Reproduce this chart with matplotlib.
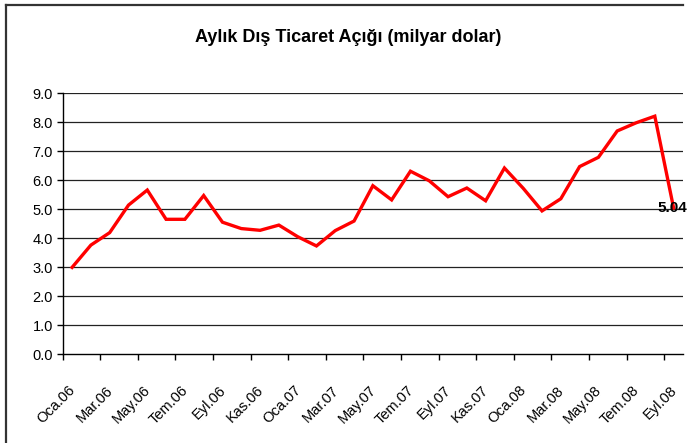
import matplotlib
matplotlib.use("Agg")
import matplotlib.pyplot as plt
from matplotlib import font_manager
from matplotlib.lines import Line2D
from matplotlib.transforms import ScaledTranslation

# ---- data ----
months_tr = ["Oca", "Şub", "Mar", "Nis", "May", "Haz", "Tem", "Ağu", "Eyl", "Eki", "Kas", "Ara"]
years = ["06", "07", "08"]
periods = [f"{m}.{y}" for y in years for m in months_tr][:33]
deficit = [2.99, 3.76, 4.19, 5.14, 5.66, 4.65, 4.65, 5.47, 4.55, 4.33, 4.27,
           4.45, 4.05, 3.73, 4.26, 4.59, 5.81, 5.32, 6.31, 5.98, 5.43, 5.73,
           5.29, 6.42, 5.72, 4.94, 5.36, 6.47, 6.79, 7.70, 7.98, 8.21, 5.04]
yticks = [0, 1, 2, 3, 4, 5, 6, 7, 8, 9]
title = "Aylık Dış Ticaret Açığı (milyar dolar)"

avail = {f.name for f in font_manager.fontManager.ttflist}
fam = [f for f in ["Liberation Sans Narrow", "Liberation Sans", "DejaVu Sans"] if f in avail]
plt.rcParams["font.family"] = fam

W, H = 690, 443
fig = plt.figure(figsize=(W / 100, H / 100), dpi=100)
fig.patch.set_facecolor("white")

L, R, T, B = 62.7, 683, 93.3, 354
ax = fig.add_axes([L / W, 1 - B / H, (R - L) / W, (B - T) / H])

n = len(deficit)
xs = [i + 0.5 for i in range(n)]
ax.plot(xs, deficit, color="#ff0000", lw=2.4, solid_joinstyle="miter", zorder=3, clip_on=False)

ax.set_xlim(0, n)
ax.set_ylim(0, 9)
ax.set_yticks(yticks)
ax.set_yticklabels([f"{v:.1f}" for v in yticks], fontsize=10.5)
for v in yticks[1:]:
    ax.axhline(v, color="#222222", lw=0.9, zorder=1)

ax.set_xticks(list(range(0, n, 2)))
ax.set_xticklabels([])
ax.set_xticks([i + 0.5 for i in range(0, n, 2)], minor=True)
ax.set_xticklabels([periods[i] for i in range(0, n, 2)], minor=True,
                   rotation=45, ha="right", va="top", rotation_mode="anchor", fontsize=10.5)
ax.tick_params(axis="x", which="major", direction="out", length=4, width=1, color="black")
ax.tick_params(axis="x", which="minor", length=0, pad=21)
ax.tick_params(axis="y", direction="out", length=4, width=1, color="black", pad=3)
shift = ScaledTranslation(-4 / 100, 0, fig.dpi_scale_trans)
for lab in ax.get_xticklabels(minor=True):
    lab.set_transform(lab.get_transform() + shift)

for s in ["top", "right"]:
    ax.spines[s].set_visible(False)
for s in ["left", "bottom"]:
    ax.spines[s].set_color("black")
    ax.spines[s].set_linewidth(1)

ax.annotate(f"{deficit[-1]:.2f}", (xs[-1], deficit[-1]), xytext=(-1, 0), textcoords="offset points",
            ha="center", va="center", fontsize=11, fontweight="bold",
            annotation_clip=False, zorder=5)

fig.text(348 / W, 1 - 37 / H, title, ha="center", va="center", fontsize=13, fontweight="bold")

# outer frame (left and top only)
fig.add_artist(Line2D([6 / W, 6 / W], [0, 1 - 5 / H], color="#333333", lw=1.6, transform=fig.transFigure))
fig.add_artist(Line2D([6 / W, 683 / W], [1 - 5 / H, 1 - 5 / H], color="#333333", lw=1.6, transform=fig.transFigure))

fig.savefig("out.png", dpi=100, facecolor="white")
